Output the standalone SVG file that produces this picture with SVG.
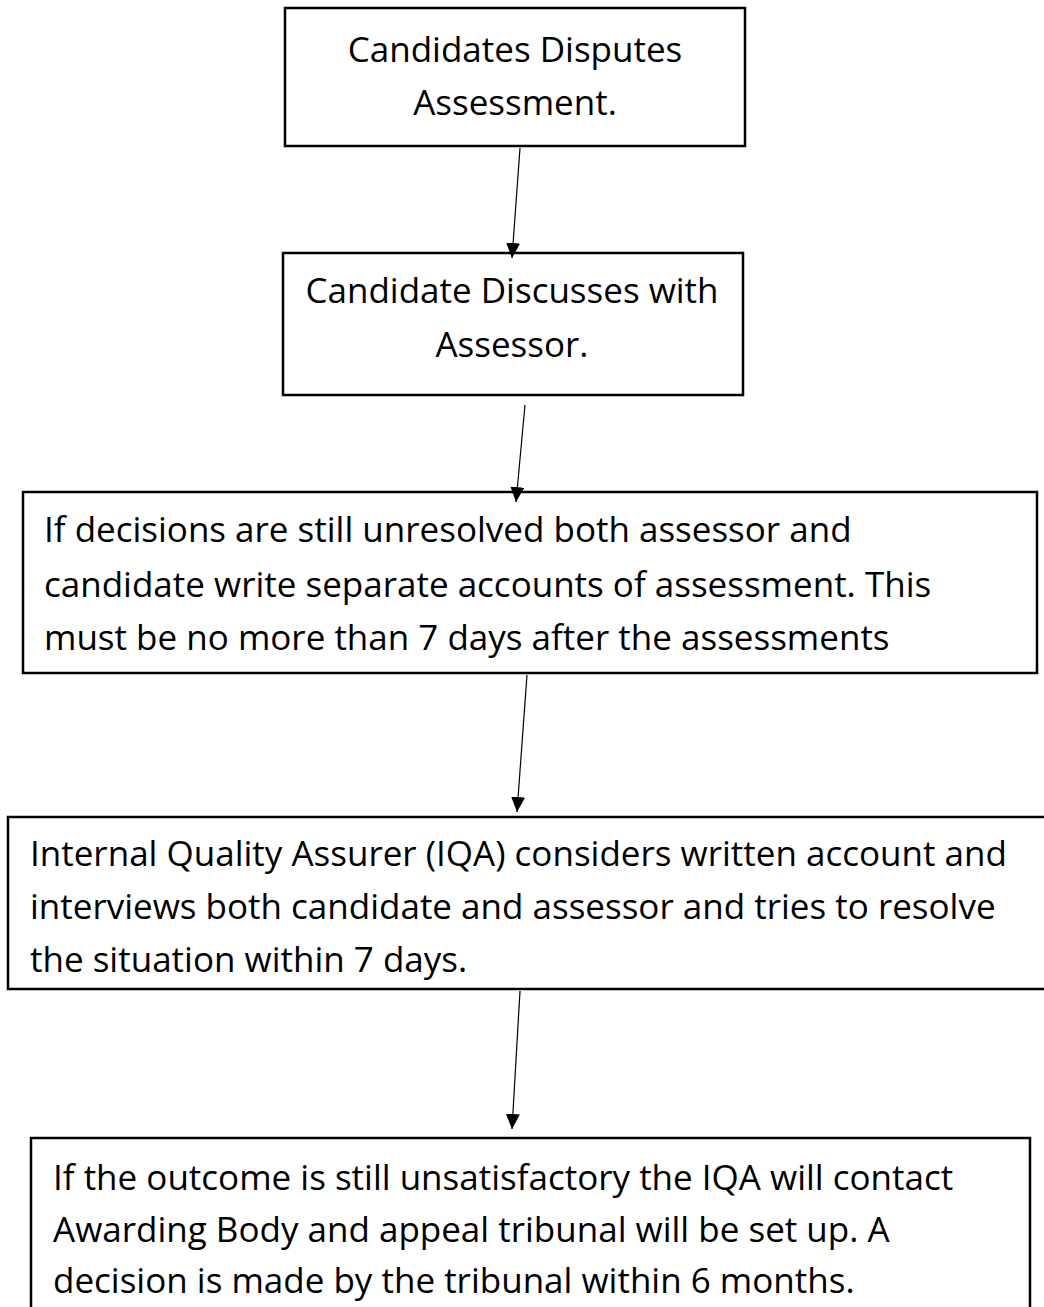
<svg xmlns="http://www.w3.org/2000/svg" width="1044" height="1307" viewBox="0 0 1044 1307">
<defs>
<style>
.box{fill:#fff;stroke:#000;stroke-width:2.5}
.t{font-family:"Open Sans","Noto Sans","Liberation Sans",sans-serif;font-size:35px;fill:#000}
.c{text-anchor:middle}
.ln{stroke:#000;stroke-width:1.2;fill:none}
</style>
<marker id="ah" markerWidth="15" markerHeight="14" refX="15" refY="7" orient="auto" markerUnits="userSpaceOnUse" viewBox="0 0 15 14">
<path d="M0,0 L15,7 L0,14 z" fill="#000"/>
</marker>
</defs>
<rect width="1044" height="1307" fill="#fff"/>
<g id="n1">
<rect class="box" x="285" y="8" width="460" height="138"/>
<text class="t c" x="515" y="62">Candidates Disputes</text>
<text class="t c" x="515" y="115">Assessment.</text>
</g>
<g id="n2">
<rect class="box" x="283" y="253" width="460" height="142"/>
<text class="t c" x="512" y="303">Candidate Discusses with</text>
<text class="t c" x="512" y="357">Assessor.</text>
</g>
<g id="n3">
<rect class="box" x="23" y="492" width="1014" height="181"/>
<text class="t" x="44" y="542">If decisions are still unresolved both assessor and</text>
<text class="t" x="44" y="597">candidate write separate accounts of assessment. This</text>
<text class="t" x="44" y="650">must be no more than 7 days after the assessments</text>
</g>
<g id="n4">
<rect class="box" x="8" y="817" width="1040" height="172"/>
<text class="t" x="30" y="866">Internal Quality Assurer (IQA) considers written account and</text>
<text class="t" x="30" y="919">interviews both candidate and assessor and tries to resolve</text>
<text class="t" x="30" y="972">the situation within 7 days.</text>
</g>
<g id="n5">
<rect class="box" x="31" y="1138" width="999" height="180"/>
<text class="t" x="53" y="1190">If the outcome is still unsatisfactory the IQA will contact</text>
<text class="t" x="53" y="1242">Awarding Body and appeal tribunal will be set up. A</text>
<text class="t" x="53" y="1293">decision is made by the tribunal within 6 months.</text>
</g>
<g id="connectors">
<line class="ln" x1="520" y1="148" x2="512" y2="258" marker-end="url(#ah)"/>
<line class="ln" x1="525" y1="405" x2="516" y2="502" marker-end="url(#ah)"/>
<line class="ln" x1="527" y1="675" x2="517" y2="812" marker-end="url(#ah)"/>
<line class="ln" x1="520" y1="991" x2="512" y2="1129" marker-end="url(#ah)"/>
</g>
</svg>
